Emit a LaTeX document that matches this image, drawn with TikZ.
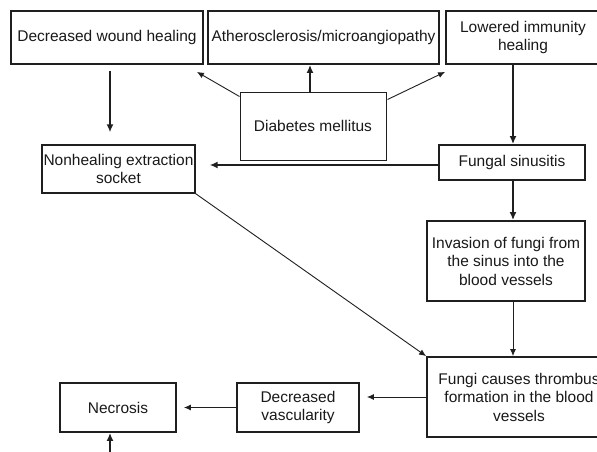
\documentclass[tikz,border=0pt]{standalone}
\usepackage{fontspec}
\setmainfont{Liberation Sans}
\usetikzlibrary{arrows.meta,calc}
\begin{document}
\begin{tikzpicture}[x=1pt,y=-1pt,
  box/.style={draw=black!88, line width=1.8pt, align=center, inner sep=0pt,
    font=\fontsize{15.5}{18.5}\selectfont, text=black!90},
  thinbox/.style={box, line width=1pt},
  arr/.style={-{Latex[length=8pt,width=7pt]}, line width=1.8pt, draw=black!88},
  tarr/.style={-{Latex[length=7pt,width=6pt]}, line width=0.9pt, draw=black!88}]
\useasboundingbox (0,0) rectangle (597,451);
\clip (0,0) rectangle (597,451);
\fill[white] (0,0) rectangle (597,451);

\node[box, minimum width=192pt, minimum height=53pt] (dwh) at (107,37.5) {Decreased wound healing};
\node[box, minimum width=231pt, minimum height=53pt] (ath) at (323.5,37.5) {Atherosclerosis/microangiopathy};
\node[box, minimum width=154pt, minimum height=53pt] (low) at (523,37.5) {Lowered immunity\\healing};
\node[thinbox, minimum width=146pt, minimum height=68pt] (dm) at (313,126) {Diabetes mellitus};
\node[box, line width=1.4pt, minimum width=153pt, minimum height=48pt] (nhs) at (118.5,169) {Nonhealing extraction\\socket};
\node[box, minimum width=146pt, minimum height=35pt] (fs) at (512,162.5) {Fungal sinusitis};
\node[box, minimum width=158pt, minimum height=80pt] (inv) at (506,261) {Invasion of fungi from\\the sinus into the\\blood vessels};
\node[box, minimum width=184pt, minimum height=80pt] (fc) at (519,397) {Fungi causes thrombus\\formation in the blood\\vessels};
\node[box, minimum width=122pt, minimum height=49pt] (dv) at (298,407.5) {Decreased\\vascularity};
\node[box, minimum width=116pt, minimum height=49pt] (nec) at (118,407.5) {Necrosis};

\coordinate (bot) at (110,460);
\coordinate (ax) at (310,0);
\coordinate (fx) at (513,0);
\coordinate (fy) at (0,165);

\draw[arr, shorten <=6pt, shorten >=12pt] (dwh.south -| bot) -- (nhs.north -| bot);
\draw[tarr] ($(dm.north west)+(0,5)$) -- ($(dwh.south east)+(-7,7)$);
\draw[arr] (dm.north -| ax) -- (ath.south -| ax);
\draw[tarr] ($(dm.north east)+(1,8)$) -- ($(low.south west)+(0,7)$);
\draw[arr] (low.south -| fx) -- (fs.north -| fx);
\draw[arr, shorten >=14pt] (fs.west |- fy) -- (nhs.east |- fy);
\draw[arr] (fs.south -| fx) -- (inv.north -| fx);
\draw[tarr] (inv.south -| fx) -- (fc.north -| fx);
\draw[tarr] (nhs.south east) -- (fc.north west);
\draw[tarr, shorten >=7pt] (fc.west) -- (fc.west -| dv.east);
\draw[tarr, shorten >=7pt] (dv.west) -- (dv.west -| nec.east);
\draw[arr] (bot) -- (nec.south -| bot);
\end{tikzpicture}
\end{document}
